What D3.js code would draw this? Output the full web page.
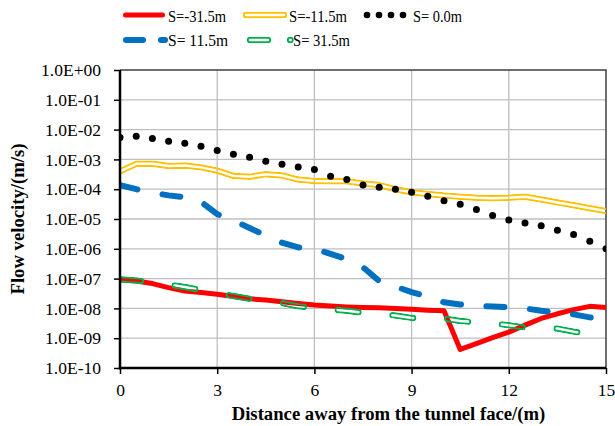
<!DOCTYPE html>
<html>
<head>
<meta charset="utf-8">
<script src="https://cdn.jsdelivr.net/npm/d3@7"></script>
<style>
html,body{margin:0;padding:0;background:#fff;}
svg{display:block;}
svg text{font-family:"Liberation Serif","Times New Roman",Times,"DejaVu Serif",serif;fill:#000;}
</style>
</head>
<body>
<svg id="chart" width="615" height="426"></svg>
<script>
// ---- data ----
const distance = [0,0.5,1,1.5,2,2.5,3,3.5,4,4.5,5,5.5,6,6.5,7,7.5,8,8.5,9,9.5,10,10.5,11,11.5,12,12.5,13,13.5,14,14.5,15];
const sNeg31_5 = [8.9e-8,8.3e-8,6.8e-8,5.0e-8,3.8e-8,3.4e-8,3.0e-8,2.5e-8,2.1e-8,1.9e-8,1.66e-8,1.45e-8,1.3e-8,1.2e-8,1.12e-8,1.07e-8,1.05e-8,1.0e-8,9.3e-9,8.7e-9,8.3e-9,4.2e-10,6.6e-10,1.05e-9,1.6e-9,2.75e-9,4.6e-9,6.6e-9,9.1e-9,1.17e-8,1.07e-8];
const sNeg11_5 = [4.0e-4,7.1e-4,7.1e-4,6.0e-4,6.2e-4,5.4e-4,4.2e-4,2.8e-4,2.6e-4,3.2e-4,2.9e-4,2.1e-4,1.9e-4,1.86e-4,1.86e-4,1.55e-4,1.38e-4,1.0e-4,7.9e-5,6.9e-5,6.1e-5,5.6e-5,5.2e-5,5.0e-5,5.2e-5,5.6e-5,4.5e-5,3.6e-5,2.9e-5,2.3e-5,1.86e-5];
const s0_0 = [5.4e-3,6.0e-3,5.0e-3,4.1e-3,3.5e-3,2.75e-3,2.0e-3,1.5e-3,1.17e-3,8.7e-4,6.9e-4,5.6e-4,4.6e-4,2.7e-4,2.1e-4,1.38e-4,1.17e-4,1.0e-4,7.9e-5,5.8e-5,4.1e-5,3.1e-5,2.1e-5,1.3e-5,9.3e-6,7.4e-6,5.9e-6,4.2e-6,3.0e-6,1.8e-6,1.0e-6];
const s11_5 = [1.38e-4,1.0e-4,7.6e-5,6.2e-5,5.4e-5,3.8e-5,1.45e-5,8.9e-6,5.0e-6,2.8e-6,1.6e-6,1.12e-6,1.0e-6,6.8e-7,4.5e-7,2.4e-7,8.3e-8,5.4e-8,3.5e-8,2.5e-8,1.6e-8,1.35e-8,1.23e-8,1.15e-8,1.1e-8,1.0e-8,8.3e-9,7.2e-9,6.3e-9,5.0e-9,4.4e-9];
const s31_5 = [9.5e-8,8.7e-8,7.6e-8,6.3e-8,5.2e-8,4.1e-8,3.3e-8,2.6e-8,2.1e-8,1.78e-8,1.5e-8,1.17e-8,1.05e-8,9.3e-9,8.3e-9,7.2e-9,6.6e-9,5.8e-9,4.8e-9,4.7e-9,4.6e-9,3.8e-9,3.4e-9,3.2e-9,2.7e-9,2.3e-9,2.2e-9,2.1e-9,1.66e-9,1.4e-9,1.2e-9];
const seriesNames = ["S=-31.5m","S=-11.5m","S= 0.0m","S= 11.5m","S= 31.5m"];
const xTicks = [0,3,6,9,12,15];
const yTicks = [1e-10,1e-9,1e-8,1e-7,1e-6,1e-5,1e-4,1e-3,1e-2,1e-1,1e0];
const yTickLabels = ["1.0E-10","1.0E-09","1.0E-08","1.0E-07","1.0E-06","1.0E-05","1.0E-04","1.0E-03","1.0E-02","1.0E-01","1.0E+00"];
const xTitle = "Distance away from the tunnel face/(m)";
const yTitle = "Flow velocity/(m/s)";

// ---- layout ----
const FONT = '"Liberation Serif","Times New Roman",Times,"DejaVu Serif",serif';
const svg = d3.select("#chart");
const L = 120, R = 606, T = 70, B = 368;
const x = d3.scaleLinear().domain([0,15]).range([L,R]);
const y = d3.scaleLog().domain([1e-10,1]).range([B,T]);
const defs = svg.append("defs");
defs.append("clipPath").attr("id","plotClip").append("rect")
  .attr("x",L).attr("y",T).attr("width",R-L).attr("height",B-T);

// grid
const grid = svg.append("g");
grid.selectAll("line.h").data(yTicks.slice(1,-1)).join("line")
  .attr("x1",L).attr("x2",R).attr("y1",d=>y(d)).attr("y2",d=>y(d))
  .attr("stroke","#bfbfbf").attr("stroke-width",1.3);
grid.selectAll("line.v").data(xTicks.slice(1,-1)).join("line")
  .attr("y1",T).attr("y2",B).attr("x1",d=>x(d)).attr("x2",d=>x(d))
  .attr("stroke","#bfbfbf").attr("stroke-width",1.3);
svg.append("path").attr("d",`M${L},${T}H${R}V${B}`).attr("fill","none")
  .attr("stroke","#404040").attr("stroke-width",1.5);

const lineGen = vals => d3.line().x((d,i)=>x(distance[i])).y(d=>y(d))(vals);
const plot = svg.append("g").attr("clip-path","url(#plotClip)");

let maskCount = 0;
function doubleLine(g, d, color, outerW, innerW, dash){
  const id = "m"+(maskCount++);
  const m = defs.append("mask").attr("id",id).attr("maskUnits","userSpaceOnUse")
    .attr("x",0).attr("y",0).attr("width",615).attr("height",426);
  m.append("path").attr("d",d).attr("fill","none").attr("stroke","#fff")
    .attr("stroke-width",outerW).attr("stroke-linecap","round").attr("stroke-linejoin","round")
    .attr("stroke-dasharray",dash||null);
  m.append("path").attr("d",d).attr("fill","none").attr("stroke","#000")
    .attr("stroke-width",innerW).attr("stroke-linecap","round").attr("stroke-linejoin","round")
    .attr("stroke-dasharray",dash||null);
  g.append("path").attr("d",d).attr("fill","none").attr("stroke",color)
    .attr("stroke-width",outerW).attr("stroke-linecap","round").attr("stroke-linejoin","round")
    .attr("stroke-dasharray",dash||null).attr("mask",`url(#${id})`);
}

plot.append("path").attr("d",lineGen(sNeg31_5)).attr("fill","none")
  .attr("stroke","#ff0000").attr("stroke-width",5).attr("stroke-linejoin","round");
doubleLine(plot, lineGen(sNeg11_5), "#ffc000", 6.5, 2.5, null);
plot.selectAll("circle.s0").data(s0_0).join("circle")
  .attr("cx",(d,i)=>x(distance[i])).attr("cy",d=>y(d)).attr("r",3.5).attr("fill","#000");
plot.append("path").attr("d",lineGen(s11_5)).attr("fill","none")
  .attr("stroke","#0070c0").attr("stroke-width",6).attr("stroke-linecap","round")
  .attr("stroke-dasharray","18,25.5");
doubleLine(plot, lineGen(s31_5), "#00b050", 6.5, 2.5, "21,34");

// axes
const yAxis = d3.axisLeft(y).tickValues(yTicks).tickSize(6).tickPadding(13)
  .tickFormat((d,i)=>yTickLabels[i]);
const gy = svg.append("g").attr("transform",`translate(${L},0)`).call(yAxis);
const xAxis = d3.axisBottom(x).tickValues(xTicks).tickSize(6).tickPadding(10).tickFormat(d3.format("d"));
const gx = svg.append("g").attr("transform",`translate(0,${B})`).call(xAxis);
[gx,gy].forEach(g=>{
  g.attr("font-family",FONT).attr("font-size",17.5);
  g.select(".domain").remove();
  g.selectAll(".tick line").attr("stroke","#000").attr("stroke-width",1.5);
  g.selectAll(".tick text").attr("fill","#000");
});
svg.append("line").attr("x1",L).attr("x2",L).attr("y1",T).attr("y2",B+1.2).attr("stroke","#000").attr("stroke-width",2.5);
svg.append("line").attr("x1",L-1.2).attr("x2",R).attr("y1",B).attr("y2",B).attr("stroke","#000").attr("stroke-width",2.5);

// titles
svg.append("text").attr("x",388.5).attr("y",420).attr("text-anchor","middle")
  .attr("font-family",FONT).attr("font-size",18.7).attr("font-weight","bold").text(xTitle);
svg.append("text").attr("transform","translate(24,219) rotate(-90)").attr("text-anchor","middle")
  .attr("font-family",FONT).attr("font-size",18.7).attr("font-weight","bold").text(yTitle);

// legend
const lg = svg.append("g");
lg.append("path").attr("d","M125.5,15H162.5").attr("stroke","#ff0000").attr("stroke-width",5).attr("stroke-linecap","round");
doubleLine(lg, "M246,15H284", "#ffc000", 6.5, 2.5, null);
lg.selectAll("circle").data([367,379,391,403]).join("circle")
  .attr("cx",d=>d).attr("cy",15).attr("r",3.3).attr("fill","#000");
lg.append("path").attr("d","M126,40H165").attr("stroke","#0070c0").attr("stroke-width",6)
  .attr("stroke-linecap","round").attr("stroke-dasharray","17,18");
doubleLine(lg, "M250,40H290.6", "#00b050", 6.5, 2.5, "18,22");
const legText = [
  {x:168,y:21.5,w:58},{x:289,y:21.5,w:58},{x:413,y:21.5,w:49},
  {x:168,y:45.5,w:60},{x:293,y:45.5,w:57}];
lg.selectAll("text").data(legText).join("text")
  .attr("x",d=>d.x).attr("y",d=>d.y).attr("font-family",FONT).attr("font-size",17.5)
  .attr("textLength",d=>d.w).attr("lengthAdjust","spacingAndGlyphs")
  .style("white-space","pre")
  .text((d,i)=>seriesNames[i]);
</script>
</body>
</html>
